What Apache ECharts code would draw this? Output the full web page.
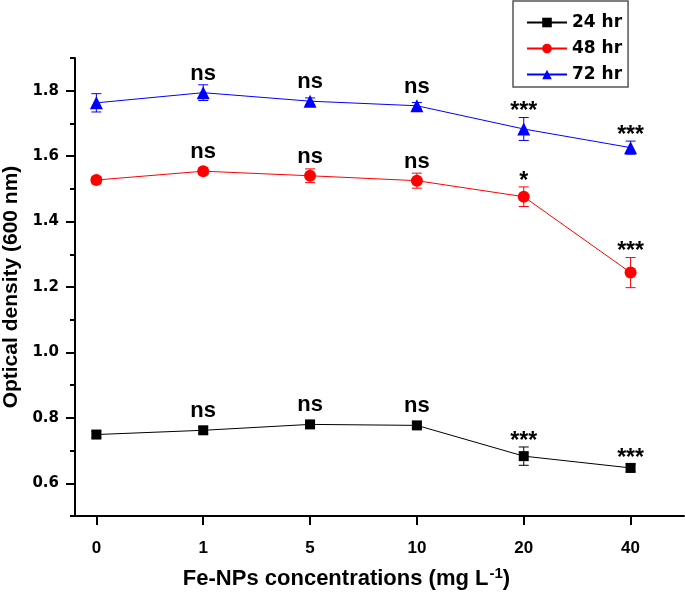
<!DOCTYPE html>
<html>
<head>
<meta charset="utf-8">
<script src="https://cdn.jsdelivr.net/npm/echarts@6/dist/echarts.min.js"></script>
<style>
  html, body { margin: 0; padding: 0; background: #fff; }
  #chart { width: 685px; height: 600px; }
</style>
</head>
<body>
<div id="chart"></div>
<script>
// Fe-NPs concentrations (mg/L), shown as evenly spaced categories
const concLabels = ["0", "1", "5", "10", "20", "40"];

// Optical density at 600 nm
const od24 = [0.749, 0.762, 0.780, 0.777, 0.683, 0.647];
const od48 = [1.527, 1.554, 1.540, 1.525, 1.476, 1.244];
const od72 = [1.763, 1.794, 1.768, 1.754, 1.683, 1.626];

// error bar half-heights
const err24 = [0.010, 0.010, 0.010, 0.010, 0.028, 0.012];
const err48 = [0.010, 0.010, 0.021, 0.023, 0.030, 0.046];
const err72 = [0.028, 0.024, 0.010, 0.010, 0.035, 0.020];

// significance marks above each point
const sig24 = ["", "ns", "ns", "ns", "***", "***"];
const sig48 = ["", "ns", "ns", "ns", "*", "***"];
const sig72 = ["", "ns", "ns", "ns", "***", "***"];

const yLabelValues = [0.6, 0.8, 1.0, 1.2, 1.4, 1.6, 1.8];
const yMinorValues = [0.5, 0.7, 0.9, 1.1, 1.3, 1.5, 1.7, 1.9];

const FONT = "'Liberation Sans', Arial, sans-serif";
const WIDE = "'DejaVu Sans', sans-serif";

const chart = echarts.init(document.getElementById("chart"));

function lineSeries(name, values, color, symbol, size) {
  return {
    name: name,
    type: "line",
    z: 3,
    symbol: symbol,
    symbolSize: size,
    lineStyle: { color: color, width: 1 },
    itemStyle: { color: color },
    data: values.map((v, i) => [i, v]),
  };
}

// stars sit above the error bar, "ns" sits above the point
function sigSeries(values, errs, sig) {
  return {
    type: "scatter",
    z: 4,
    silent: true,
    symbolSize: 0,
    itemStyle: { opacity: 1 },
    data: values.map((v, i) => {
      const star = sig[i].startsWith("*");
      return {
        value: [i, star ? v + errs[i] : v],
        label: {
          show: sig[i] !== "",
          position: "top",
          formatter: sig[i],
          distance: star ? -6 : 8,
          color: "#000",
          opacity: 1,
          fontFamily: FONT,
          fontWeight: "bold",
          fontSize: star ? 23 : 22,
        },
      };
    }),
  };
}

function errorSeries(values, errs, color) {
  return {
    type: "custom",
    z: 2,
    silent: true,
    data: values.map((v, i) => [i, v - errs[i], v + errs[i]]),
    renderItem: (params, api) => {
      const lo = api.coord([api.value(0), api.value(1)]);
      const hi = api.coord([api.value(0), api.value(2)]);
      const w = 5;
      const style = { stroke: color, lineWidth: 1 };
      return {
        type: "group",
        children: [
          { type: "line", shape: { x1: lo[0], y1: lo[1], x2: hi[0], y2: hi[1] }, style: style },
          { type: "line", shape: { x1: lo[0] - w, y1: lo[1], x2: lo[0] + w, y2: lo[1] }, style: style },
          { type: "line", shape: { x1: hi[0] - w, y1: hi[1], x2: hi[0] + w, y2: hi[1] }, style: style },
        ],
      };
    },
  };
}

chart.setOption({
  animation: false,
  grid: {
    left: 75,
    top: 58,
    width: 609,
    height: 458,
    containLabel: false,
    outerBoundsMode: "none",
  },
  legend: {
    orient: "vertical",
    left: 513,
    top: 1,
    padding: [13, 6, 4, 13],
    itemGap: 9,
    itemWidth: 40,
    itemHeight: 12,
    itemTextGap: 6,
    borderColor: "#555",
    borderWidth: 1.5,
    textStyle: { fontFamily: WIDE, fontWeight: "bold", fontSize: 17, color: "#000" },
    data: ["24 hr", "48 hr", "72 hr"],
  },
  xAxis: {
    type: "value",
    min: -0.2,
    max: 5.5,
    name: "Fe-NPs concentrations (mg L{sup|-1})",
    nameLocation: "middle",
    nameGap: 50,
    nameTextStyle: {
      fontFamily: FONT,
      fontWeight: "bold",
      fontSize: 22,
      color: "#000",
      padding: [0, 66, 0, 0],
      rich: {
        sup: { fontFamily: FONT, fontWeight: "bold", fontSize: 15, color: "#000", verticalAlign: "bottom", padding: [0, 0, 10, 1] },
      },
    },
    splitLine: { show: false },
    axisLine: { onZero: false, lineStyle: { color: "#000", width: 2 } },
    axisTick: {
      show: true,
      inside: false,
      length: 9,
      lineStyle: { color: "#000", width: 2 },
      customValues: [0, 1, 2, 3, 4, 5],
    },
    axisLabel: {
      margin: 24,
      fontFamily: FONT,
      fontWeight: "bold",
      fontSize: 17,
      color: "#000",
      customValues: [0, 1, 2, 3, 4, 5],
      formatter: v => concLabels[Math.round(v)],
    },
  },
  yAxis: [
    {
      type: "value",
      min: 0.5,
      max: 1.9,
      name: "Optical density (600 nm)",
      nameLocation: "middle",
      nameGap: 53,
      nameTextStyle: { fontFamily: FONT, fontWeight: "bold", fontSize: 21, color: "#000" },
      splitLine: { show: false },
      axisLine: { show: true, onZero: false, lineStyle: { color: "#000", width: 2 } },
      axisTick: {
        show: true,
        length: 9,
        lineStyle: { color: "#000", width: 2 },
        customValues: yLabelValues,
      },
      axisLabel: {
        margin: 16,
        fontFamily: WIDE,
        fontWeight: "bold",
        fontSize: 15,
        color: "#000",
        customValues: yLabelValues,
        formatter: v => v.toFixed(1),
      },
    },
    {
      // minor ticks only
      type: "value",
      position: "left",
      min: 0.5,
      max: 1.9,
      splitLine: { show: false },
      axisLine: { show: false, onZero: false },
      axisLabel: { show: false },
      axisTick: {
        show: true,
        length: 5,
        lineStyle: { color: "#000", width: 2 },
        customValues: yMinorValues,
      },
    },
  ],
  series: [
    errorSeries(od24, err24, "#000"),
    errorSeries(od48, err48, "#ff0000"),
    errorSeries(od72, err72, "#0000ff"),
    lineSeries("24 hr", od24, "#000", "rect", 10),
    lineSeries("48 hr", od48, "#ff0000", "circle", 12),
    lineSeries("72 hr", od72, "#0000ff", "triangle", 13),
    sigSeries(od24, err24, sig24),
    sigSeries(od48, err48, sig48),
    sigSeries(od72, err72, sig72),
  ],
});
</script>
</body>
</html>
